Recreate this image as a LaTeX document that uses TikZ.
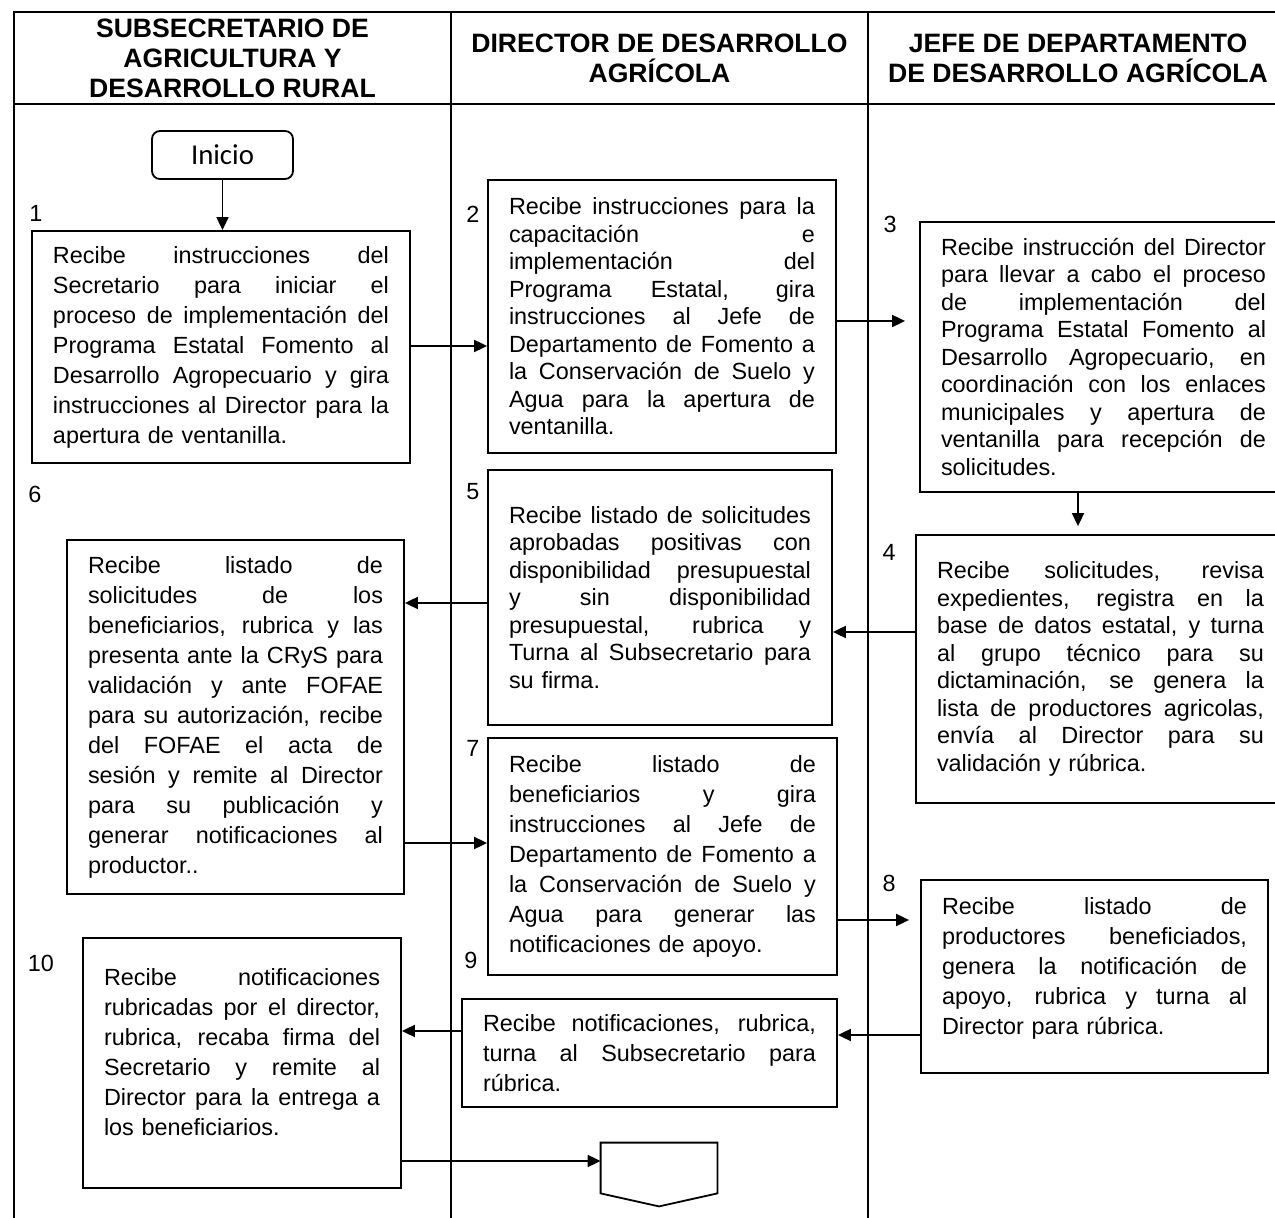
\documentclass[tikz,border=0pt]{standalone}
\usepackage{fontspec}
\setmainfont{Liberation Sans}
\newfontfamily\inifont{Carlito}
\usetikzlibrary{arrows.meta,calc}
% one justified line of a process description: the spaces stretch to fill the line
\newcommand\jl[1]{\makebox[\hsize][s]{\spaceskip=.278em plus 1fil minus .09em\relax #1}\\}

\begin{document}
\begin{tikzpicture}[x=0.5pt,y=-0.5pt,
  rule/.style={line width=0.9pt},
  pbox/.style={draw, line width=0.9pt, inner xsep=10.5pt, inner ysep=0pt, align=left,
    font=\fontsize{11.7}{15}\selectfont},
  dense/.style={font=\fontsize{11.7}{13.75}\selectfont},
  head/.style={align=center, font=\bfseries\fontsize{13.3}{15}\selectfont},
  num/.style={inner sep=0pt, font=\fontsize{11.7}{14}\selectfont},
  flow/.style={line width=0.9pt, -{Triangle[length=6.5pt,width=6pt]}},
  startbox/.style={draw, line width=0.9pt, rounded corners=4pt, minimum width=70.5pt,
    minimum height=24pt, font=\inifont\fontsize{14.4}{16}\selectfont}
]
\useasboundingbox (0,0) rectangle (1275,1218);
\clip (0,0) rectangle (1275,1218);

% swimlane frame
\draw[rule] (1275,12) -- (14,12) -- (14,1218);
\draw[rule] (14,104) -- (1275,104);
\draw[rule] (451,12) -- (451,1218);
\draw[rule] (868,12) -- (868,1218);

% lane headings
\node[head] (h1) at (232.5,58) {SUBSECRETARIO DE\\AGRICULTURA Y\\DESARROLLO RURAL};
\node[head] (h2) at (659.5,58) {DIRECTOR DE DESARROLLO\\AGRÍCOLA};
\node[head] (h3) at (1078,58) {JEFE DE DEPARTAMENTO\\DE DESARROLLO AGRÍCOLA};

% start terminal
\node[startbox] (inicio) at (222.5,155) {Inicio};

% process steps
\node[pbox, minimum width=189pt, minimum height=116pt, text width=168pt] (b1) at (221,347) {%
\jl{Recibe instrucciones del}
\jl{Secretario para iniciar el}
\jl{proceso de implementación del}
\jl{Programa Estatal Fomento al}
\jl{Desarrollo Agropecuario y gira}
\jl{instrucciones al Director para la}
apertura de ventanilla.};

\node[pbox, dense, minimum width=174pt, minimum height=136.5pt, text width=153pt] (b2) at (662,316.5) {%
\jl{Recibe instrucciones para la}
\jl{capacitación e}
\jl{implementación del}
\jl{Programa Estatal, gira}
\jl{instrucciones al Jefe de}
\jl{Departamento de Fomento a}
\jl{la Conservación de Suelo y}
\jl{Agua para la apertura de}
ventanilla.};

\node[pbox, dense, minimum width=183.5pt, minimum height=135pt, text width=162.5pt] (b3) at (1103.5,357) {%
\jl{Recibe instrucción del Director}
\jl{para llevar a cabo el proceso}
\jl{de implementación del}
\jl{Programa Estatal Fomento al}
\jl{Desarrollo Agropecuario, en}
\jl{coordinación con los enlaces}
\jl{municipales y apertura de}
\jl{ventanilla para recepción de}
solicitudes.};

\node[pbox, dense, minimum width=184.5pt, minimum height=134pt, text width=163.5pt] (b4) at (1100.5,669) {%
\jl{Recibe solicitudes, revisa}
\jl{expedientes, registra en la}
\jl{base de datos estatal, y turna}
\jl{al grupo técnico para su}
\jl{dictaminación, se genera la}
\jl{lista de productores agricolas,}
\jl{envía al Director para su}
validación y rúbrica.};

\node[pbox, dense, minimum width=172pt, minimum height=127.5pt, text width=151pt] (b5) at (660,597.5) {%
\jl{Recibe listado de solicitudes}
\jl{aprobadas positivas con}
\jl{disponibilidad presupuestal}
\jl{y sin disponibilidad}
\jl{presupuestal, rubrica y}
\jl{Turna al Subsecretario para}
su firma.};

\node[pbox, minimum width=168.5pt, minimum height=177pt, text width=147.5pt] (b6) at (235.5,717) {%
\jl{Recibe listado de}
\jl{solicitudes de los}
\jl{beneficiarios, rubrica y las}
\jl{presenta ante la CRyS para}
\jl{validación y ante FOFAE}
\jl{para su autorización, recibe}
\jl{del FOFAE el acta de}
\jl{sesión y remite al Director}
\jl{para su publicación y}
\jl{generar notificaciones al}
productor..};

\node[pbox, minimum width=174.5pt, minimum height=118.5pt, text width=153.5pt] (b7) at (662.5,856.5) {%
\jl{Recibe listado de}
\jl{beneficiarios y gira}
\jl{instrucciones al Jefe de}
\jl{Departamento de Fomento a}
\jl{la Conservación de Suelo y}
\jl{Agua para generar las}
notificaciones de apoyo.};

\node[pbox, minimum width=173.5pt, minimum height=96.5pt, text width=152.5pt] (b8) at (1094.5,976.5) {%
\jl{Recibe listado de}
\jl{productores beneficiados,}
\jl{genera la notificación de}
\jl{apoyo, rubrica y turna al}
Director para rúbrica.\par\kern8.5pt};

\node[pbox, minimum width=187.5pt, minimum height=54pt, text width=166.5pt] (b9) at (649.5,1053) {%
\jl{Recibe notificaciones, rubrica,}
\jl{turna al Subsecretario para}
rúbrica.};

\node[pbox, minimum width=159pt, minimum height=125pt, text width=138pt] (b10) at (242,1063) {%
\jl{Recibe notificaciones}
\jl{rubricadas por el director,}
\jl{rubrica, recaba firma del}
\jl{Secretario y remite al}
\jl{Director para la entrega a}
los beneficiarios.\par\kern11pt};

% off-page connector
\node[minimum width=58pt, minimum height=25pt, inner sep=0pt] (fin) at (659,1168) {};
\draw[rule] (fin.south west) -- (fin.north west) -- (fin.north east) -- (fin.south east)
  -- ($(fin.south)+(0,13)$) -- cycle;

% step numbers
\node[num] (n1) at (36,213) {1};
\node[num] (n2) at (473,214) {2};
\node[num] (n3) at (890,224) {3};
\node[num] (n4) at (889,552) {4};
\node[num] (n5) at (473,492) {5};
\node[num] (n6) at (35,494) {6};
\node[num] (n7) at (473,748) {7};
\node[num] (n8) at (889,883) {8};
\node[num] (n9) at (471,960) {9};
\node[num] (n10) at (41,963) {10};

% connector heights
\coordinate (r12) at (0,346);
\coordinate (r23) at (0,321);
\coordinate (r45) at (0,632);
\coordinate (r56) at (0,603);
\coordinate (r67) at (0,843);
\coordinate (r78) at (0,920);
\coordinate (r89) at (0,1035);
\coordinate (r910) at (0,1031);
\coordinate (rfin) at (0,1161);
\coordinate (c34) at (1078,0);

% flow connectors
\draw[flow] (inicio.south) -- (inicio.south |- b1.north);
\draw[flow] (b1.east |- r12) -- (b2.west |- r12);
\draw[flow, shorten >=7pt] (b2.east |- r23) -- (b3.west |- r23);
\draw[flow, shorten >=4pt] (c34 |- b3.south) -- (c34 |- b4.north);
\draw[flow] (b4.west |- r45) -- (b5.east |- r45);
\draw[flow] (b5.west |- r56) -- (b6.east |- r56);
\draw[flow] (b6.east |- r67) -- (b7.west |- r67);
\draw[flow, shorten >=5.5pt] (b7.east |- r78) -- (b8.west |- r78);
\draw[flow] (b8.west |- r89) -- (b9.east |- r89);
\draw[flow] (b9.west |- r910) -- (b10.east |- r910);
\draw[flow] (b10.east |- rfin) -- (fin.west |- rfin);
\end{tikzpicture}
\end{document}
